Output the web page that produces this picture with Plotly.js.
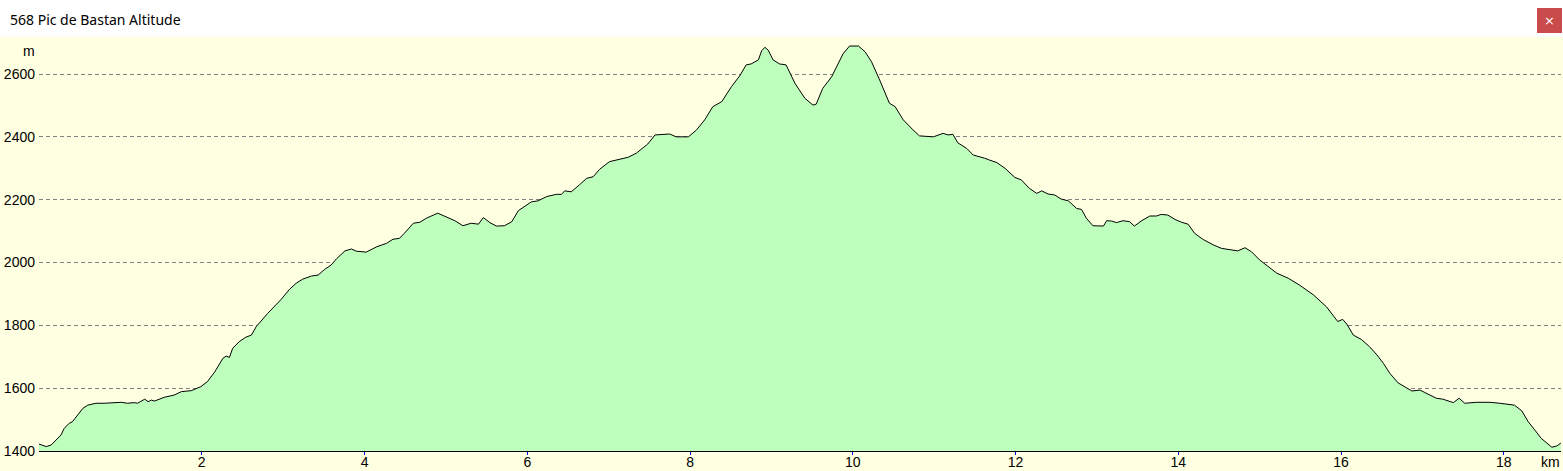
<!DOCTYPE html>
<html>
<head>
<meta charset="utf-8">
<script src="https://cdn.plot.ly/plotly-3.0.1.min.js"></script>
<style>html,body{margin:0;padding:0;background:#FFFFE1;}#chart{width:1563px;height:471px;}</style>
</head>
<body>
<div id="chart"></div>
<script>
// Distance along the route (km)
const distanceKm = [
  0.00, 0.09, 0.15, 0.21, 0.27, 0.31, 0.37, 0.41, 0.48, 0.54, 0.60, 0.70, 0.80, 1.01, 1.09, 1.17, 1.21, 1.30, 1.34, 1.38, 1.42, 1.54, 1.66, 1.75, 1.87, 1.99,
  2.07, 2.16, 2.26, 2.30, 2.34, 2.38, 2.46, 2.54, 2.61, 2.67, 2.81, 2.97,
  3.08, 3.16, 3.24, 3.35, 3.43, 3.51, 3.59, 3.66, 3.76, 3.84, 3.90, 4.02, 4.15, 4.27, 4.35, 4.43, 4.49, 4.60, 4.68, 4.76, 4.90,
  5.01, 5.11, 5.21, 5.31, 5.40, 5.46, 5.54, 5.62, 5.72, 5.81, 5.89, 5.97, 6.05, 6.13, 6.24, 6.36,
  6.42, 6.46, 6.54, 6.64, 6.73, 6.81, 6.89, 7.01, 7.14, 7.24, 7.34, 7.48, 7.57, 7.65, 7.75, 7.83, 7.98,
  8.08, 8.18, 8.28, 8.39, 8.51, 8.61, 8.69, 8.75, 8.84, 8.88, 8.92, 8.96, 9.02, 9.10, 9.18, 9.29, 9.41, 9.51, 9.55, 9.63, 9.74, 9.82, 9.88, 9.96,
  10.07, 10.15, 10.23, 10.33, 10.45, 10.52, 10.62, 10.74, 10.82, 10.99, 11.05, 11.11, 11.17, 11.23, 11.29, 11.40, 11.48, 11.56, 11.62, 11.68, 11.77, 11.87, 11.99,
  12.07, 12.17, 12.26, 12.32, 12.40, 12.48, 12.56, 12.65, 12.75, 12.81, 12.87, 12.95, 13.08, 13.12, 13.18, 13.24, 13.32, 13.40, 13.46, 13.55, 13.65, 13.73, 13.79, 13.87, 13.96,
  14.04, 14.12, 14.20, 14.30, 14.43, 14.53, 14.63, 14.73, 14.82, 14.90, 15.00, 15.10, 15.21, 15.35, 15.49, 15.66, 15.82, 15.96,
  16.02, 16.07, 16.15, 16.25, 16.35, 16.44, 16.52, 16.60, 16.70, 16.87, 16.97, 17.03, 17.17, 17.25, 17.38, 17.45, 17.52, 17.66, 17.83, 17.95,
  18.03, 18.13, 18.22, 18.30, 18.38, 18.46, 18.59, 18.65, 18.70
];
// Altitude (m)
const altitudeM = [
  1422, 1414, 1419, 1435, 1451, 1472, 1488, 1493, 1515, 1536, 1546, 1552, 1552, 1555, 1552, 1554, 1552, 1565, 1557, 1562, 1559, 1571, 1578, 1589, 1592, 1605,
  1621, 1652, 1695, 1702, 1698, 1727, 1748, 1762, 1769, 1796, 1838, 1881,
  1915, 1934, 1947, 1957, 1960, 1978, 1992, 2013, 2037, 2043, 2036, 2033, 2050, 2061, 2074, 2077, 2093, 2125, 2128, 2141, 2157,
  2144, 2133, 2117, 2125, 2122, 2143, 2127, 2116, 2117, 2130, 2165, 2178, 2193, 2196, 2210, 2217,
  2217, 2228, 2225, 2247, 2268, 2273, 2297, 2321, 2328, 2335, 2348, 2377, 2406, 2408, 2409, 2400, 2400,
  2422, 2454, 2496, 2512, 2560, 2594, 2629, 2632, 2645, 2674, 2685, 2676, 2645, 2632, 2629, 2570, 2523, 2501, 2504, 2554, 2591, 2634, 2664, 2689,
  2689, 2671, 2639, 2581, 2507, 2496, 2454, 2422, 2403, 2400, 2406, 2411, 2406, 2408, 2381, 2363, 2342, 2337, 2332, 2326, 2318, 2300, 2271,
  2263, 2236, 2220, 2228, 2218, 2215, 2202, 2196, 2172, 2169, 2141, 2117, 2116, 2133, 2132, 2127, 2133, 2130, 2116, 2133, 2148, 2148, 2153, 2151, 2137,
  2128, 2122, 2093, 2074, 2056, 2045, 2042, 2037, 2047, 2034, 2008, 1989, 1966, 1950, 1928, 1897, 1859, 1812,
  1819, 1804, 1769, 1755, 1732, 1706, 1679, 1647, 1617, 1591, 1594, 1586, 1568, 1565, 1554, 1568, 1552, 1555, 1555, 1552,
  1550, 1546, 1528, 1493, 1467, 1440, 1412, 1416, 1425
];
const xTickVals = [2, 4, 6, 8, 10, 12, 14, 16, 18];
const yTickVals = [1400, 1600, 1800, 2000, 2200, 2400, 2600];
const chartTitle = "568 Pic de Bastan Altitude";
const xUnit = "km";
const yUnit = "m";

const trace = {
  x: distanceKm, y: altitudeM, type: "scatter", mode: "lines",
  line: {color: "#000000", width: 1},
  fill: "tozeroy", fillcolor: "#BEFFBE",
  hoverinfo: "x+y"
};

const W = 1563, H = 471, L = 39, R = 2, T = 37, B = 20;
const pw = W - L - R, ph = H - T - B;
const px = v => (v - L) / pw;
const py = v => (H - B - v) / ph;

const layout = {
  width: W, height: H,
  margin: {l: L, r: R, t: T, b: B, pad: 0},
  paper_bgcolor: "#FFFFE1", plot_bgcolor: "#FFFFE1",
  showlegend: false,
  font: {family: "Liberation Sans, Arial, sans-serif", size: 14, color: "#000"},
  xaxis: {
    range: [0, pw / 81.38], tickvals: xTickVals, ticktext: xTickVals.map(String),
    ticks: "outside", ticklen: 3, tickcolor: "#0000FF", tickwidth: 1,
    ticklabelstandoff: -5,
    showgrid: false, zeroline: false, showline: true, linecolor: "#000000", linewidth: 1,
    tickfont: {size: 14, color: "#000"}, fixedrange: true
  },
  yaxis: {
    range: [1400, 1400 + ph / 0.31417], tickvals: yTickVals, ticktext: yTickVals.map(String),
    ticks: "", showgrid: true, gridcolor: "#808080", gridwidth: 1, griddash: "4px,3px",
    zeroline: false, showline: false, ticklabelstandoff: 3,
    tickfont: {size: 14, color: "#000"}, fixedrange: true
  },
  shapes: [
    {type: "rect", xref: "paper", yref: "paper", x0: px(-5), x1: px(W + 5), y0: 1, y1: py(-5),
     fillcolor: "#FFFFFF", line: {width: 0}},
    {type: "rect", xref: "paper", yref: "paper", x0: px(1537), x1: px(1562), y0: py(33), y1: py(8),
     fillcolor: "#C94B4B", line: {width: 0}}
  ],
  annotations: [
    {text: chartTitle, xref: "paper", yref: "paper", x: px(8), y: py(19), xanchor: "left", yanchor: "middle",
     showarrow: false, font: {family: "Noto Sans, sans-serif", size: 14, color: "#000"}},
    {text: "×", xref: "paper", yref: "paper", x: px(1549.5), y: py(20), xanchor: "center", yanchor: "middle",
     showarrow: false, font: {family: "DejaVu Sans, sans-serif", size: 13, color: "#FFFFFF"}},
    {text: yUnit, xref: "paper", yref: "paper", x: px(37), y: py(51), xanchor: "right", yanchor: "middle",
     showarrow: false, font: {size: 14, color: "#000"}},
    {text: xUnit, xref: "paper", yref: "paper", x: px(1562), y: py(462), xanchor: "right", yanchor: "middle",
     showarrow: false, font: {size: 14, color: "#000"}}
  ]
};

Plotly.newPlot("chart", [trace], layout, {displayModeBar: false, staticPlot: true});
</script>
</body>
</html>
